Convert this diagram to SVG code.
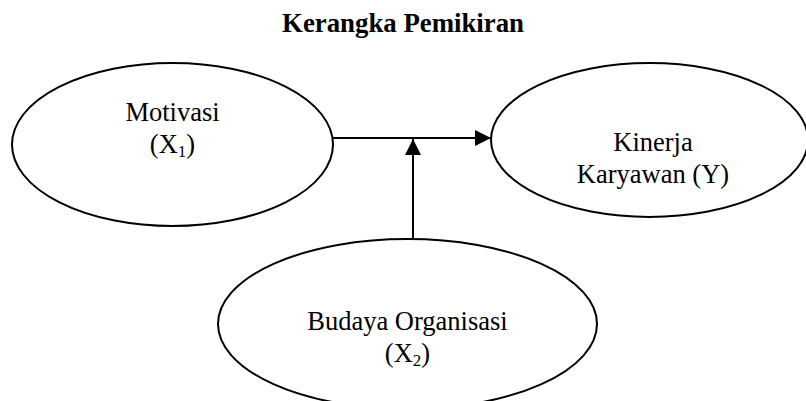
<svg xmlns="http://www.w3.org/2000/svg" width="806" height="401" viewBox="0 0 806 401">
<style>
.node ellipse{fill:#fff;stroke:#000;stroke-width:2}
text{font-family:"Liberation Serif","Times New Roman",serif;fill:#000;text-anchor:middle}
.lbl{font-size:26.5px}
.sub{font-size:17px}
.title{font-size:26.8px;font-weight:bold}
.conn line{stroke:#000;stroke-width:2}
</style>
<defs>
<marker id="arr" viewBox="0 0 16 16" refX="16" refY="8" markerWidth="16" markerHeight="16" markerUnits="userSpaceOnUse" orient="auto">
<path d="M0,0 L16,8 L0,16 Z" fill="#000"/>
</marker>
</defs>
<rect width="806" height="401" fill="#fff"/>
<text class="title" x="403" y="32">Kerangka Pemikiran</text>
<g class="conn">
<line x1="333" y1="138" x2="491" y2="138" marker-end="url(#arr)"/>
<line x1="413" y1="240" x2="413" y2="139" marker-end="url(#arr)"/>
</g>
<g id="motivasi" class="node">
<ellipse cx="172.5" cy="144.5" rx="160.5" ry="81.5"/>
<text class="lbl" x="172.5" y="121">Motivasi</text>
<text class="lbl" x="172.5" y="153">(X<tspan class="sub" dy="4">1</tspan><tspan dy="-4">)</tspan></text>
</g>
<g id="kinerja" class="node">
<ellipse cx="649.5" cy="140" rx="158.5" ry="77"/>
<text class="lbl" x="653" y="151">Kinerja</text>
<text class="lbl" x="653" y="183">Karyawan (Y)</text>
</g>
<g id="budaya" class="node">
<ellipse cx="407.5" cy="324" rx="189.5" ry="85"/>
<text class="lbl" x="407.5" y="330">Budaya Organisasi</text>
<text class="lbl" x="407.5" y="362">(X<tspan class="sub" dy="4">2</tspan><tspan dy="-4">)</tspan></text>
</g>
</svg>
